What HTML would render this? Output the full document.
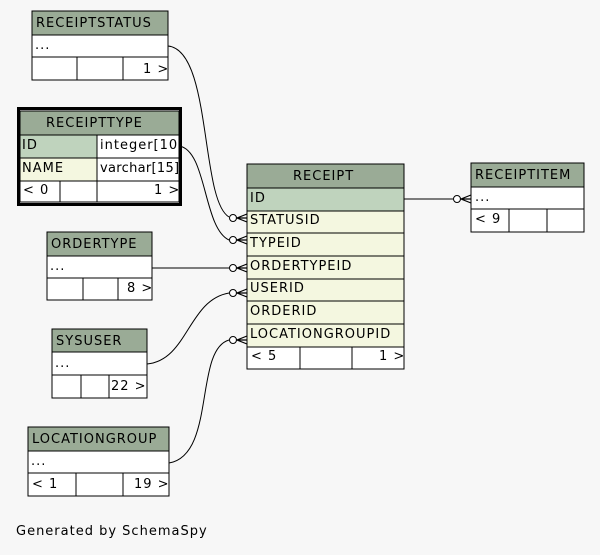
<!DOCTYPE html>
<html><head><style>
body{margin:0;background:#f7f7f7;}
svg{display:block}
text{font-family:"DejaVu Sans","Liberation Sans",sans-serif;font-size:13px;fill:#000;letter-spacing:1px}
</style></head><body>
<svg width="600" height="555" viewBox="0 0 600 555" xmlns="http://www.w3.org/2000/svg">
<rect width="600" height="555" fill="#f7f7f7"/>
<g stroke="#000" stroke-width="1" fill="none">
<path d="M168,46 C212,50 200,200 229,217"/>
<path d="M179,146 C207,150 203,228 229,240"/>
<path d="M152,268 L229,268"/>
<path d="M147,364 C188,360 188,300 229,293"/>
<path d="M169,463 C216,455 194,350 229,340"/>
<path d="M404,199 L453,199"/>
</g>
<g stroke="#000" stroke-width="1" fill="#fff">
<circle cx="233" cy="218" r="3.5"/>
<circle cx="233" cy="240" r="3.5"/>
<circle cx="233" cy="268" r="3.5"/>
<circle cx="233" cy="293" r="3.5"/>
<circle cx="233" cy="340" r="3.5"/>
<circle cx="457" cy="199" r="3.5"/>
</g>
<g stroke="#000" stroke-width="1.2" fill="none">
<path d="M247,214 L237,218 L247,222 M237,218 L247,218"/>
<path d="M247,236 L237,240 L247,244 M237,240 L247,240"/>
<path d="M247,264 L237,268 L247,272 M237,268 L247,268"/>
<path d="M247,289 L237,293 L247,297 M237,293 L247,293"/>
<path d="M247,336 L237,340 L247,344 M237,340 L247,340"/>
<path d="M471,195 L461,199 L471,203 M461,199 L471,199"/>
</g>

<g stroke="#000" stroke-width="1">
<rect x="32" y="11" width="136" height="24" fill="#9aab96"/>
<rect x="32" y="35" width="136" height="22" fill="#fff"/>
<rect x="32" y="57" width="136" height="23" fill="#fff"/>
<line x1="77" y1="57" x2="77" y2="80"/><line x1="123" y1="57" x2="123" y2="80"/>
</g>
<text x="36" y="27">RECEIPTSTATUS</text>
<text x="35" y="49">...</text>
<text x="143" y="73">1 &gt;</text>

<rect x="18.5" y="108.5" width="162" height="96" fill="none" stroke="#000" stroke-width="3"/>
<g stroke="#000" stroke-width="1">
<rect x="20" y="111" width="159" height="24" fill="#9aab96"/>
<rect x="20" y="135" width="77" height="23" fill="#bfd3bd"/>
<rect x="97" y="135" width="82" height="23" fill="#fff"/>
<rect x="20" y="158" width="77" height="23" fill="#f4f7e0"/>
<rect x="97" y="158" width="82" height="23" fill="#fff"/>
<rect x="20" y="181" width="159" height="21" fill="#fff"/>
<line x1="60" y1="181" x2="60" y2="202"/><line x1="97" y1="181" x2="97" y2="202"/>
</g>
<text x="46" y="127">RECEIPTTYPE</text>
<text x="22" y="149">ID</text>
<text x="100" y="149">integer[10</text>
<text x="22" y="172">NAME</text>
<text x="100" y="172" style="letter-spacing:0.3px">varchar[15]</text>
<text x="23" y="194">&lt; 0</text>
<text x="154" y="194">1 &gt;</text>

<g stroke="#000" stroke-width="1">
<rect x="47" y="232" width="105" height="24" fill="#9aab96"/>
<rect x="47" y="256" width="105" height="22" fill="#fff"/>
<rect x="47" y="278" width="105" height="22" fill="#fff"/>
<line x1="83" y1="278" x2="83" y2="300"/><line x1="118" y1="278" x2="118" y2="300"/>
</g>
<text x="51" y="248">ORDERTYPE</text>
<text x="50" y="270">...</text>
<text x="127" y="292">8 &gt;</text>

<g stroke="#000" stroke-width="1">
<rect x="52" y="329" width="95" height="23" fill="#9aab96"/>
<rect x="52" y="352" width="95" height="23" fill="#fff"/>
<rect x="52" y="375" width="95" height="23" fill="#fff"/>
<line x1="81" y1="375" x2="81" y2="398"/><line x1="109" y1="375" x2="109" y2="398"/>
</g>
<text x="56" y="345">SYSUSER</text>
<text x="55" y="367">...</text>
<text x="111" y="390">22 &gt;</text>

<g stroke="#000" stroke-width="1">
<rect x="28" y="427" width="141" height="24" fill="#9aab96"/>
<rect x="28" y="451" width="141" height="22" fill="#fff"/>
<rect x="28" y="473" width="141" height="23" fill="#fff"/>
<line x1="76" y1="473" x2="76" y2="496"/><line x1="123" y1="473" x2="123" y2="496"/>
</g>
<text x="32" y="443">LOCATIONGROUP</text>
<text x="31" y="465">...</text>
<text x="32" y="488">&lt; 1</text>
<text x="134" y="488">19 &gt;</text>

<g stroke="#000" stroke-width="1">
<rect x="247" y="164" width="157" height="24" fill="#9aab96"/>
<rect x="247" y="188" width="157" height="23" fill="#bfd3bd"/>
<rect x="247" y="211" width="157" height="22" fill="#f4f7e0"/>
<rect x="247" y="233" width="157" height="23" fill="#f4f7e0"/>
<rect x="247" y="256" width="157" height="23" fill="#f4f7e0"/>
<rect x="247" y="279" width="157" height="22" fill="#f4f7e0"/>
<rect x="247" y="301" width="157" height="23" fill="#f4f7e0"/>
<rect x="247" y="324" width="157" height="23" fill="#f4f7e0"/>
<rect x="247" y="347" width="157" height="22" fill="#fff"/>
<line x1="300" y1="347" x2="300" y2="369"/><line x1="352" y1="347" x2="352" y2="369"/>
</g>
<text x="293" y="180">RECEIPT</text>
<text x="250" y="202">ID</text>
<text x="250" y="224">STATUSID</text>
<text x="250" y="247">TYPEID</text>
<text x="250" y="270">ORDERTYPEID</text>
<text x="250" y="292">USERID</text>
<text x="250" y="315">ORDERID</text>
<text x="250" y="338">LOCATIONGROUPID</text>
<text x="251" y="360">&lt; 5</text>
<text x="379" y="360">1 &gt;</text>

<g stroke="#000" stroke-width="1">
<rect x="471" y="163" width="113" height="24" fill="#9aab96"/>
<rect x="471" y="187" width="113" height="22" fill="#fff"/>
<rect x="471" y="209" width="113" height="23" fill="#fff"/>
<line x1="509" y1="209" x2="509" y2="232"/><line x1="547" y1="209" x2="547" y2="232"/>
</g>
<text x="475" y="179">RECEIPTITEM</text>
<text x="475" y="201">...</text>
<text x="475" y="223">&lt; 9</text>

<text x="16" y="535">Generated by SchemaSpy</text>
</svg>
</body></html>
